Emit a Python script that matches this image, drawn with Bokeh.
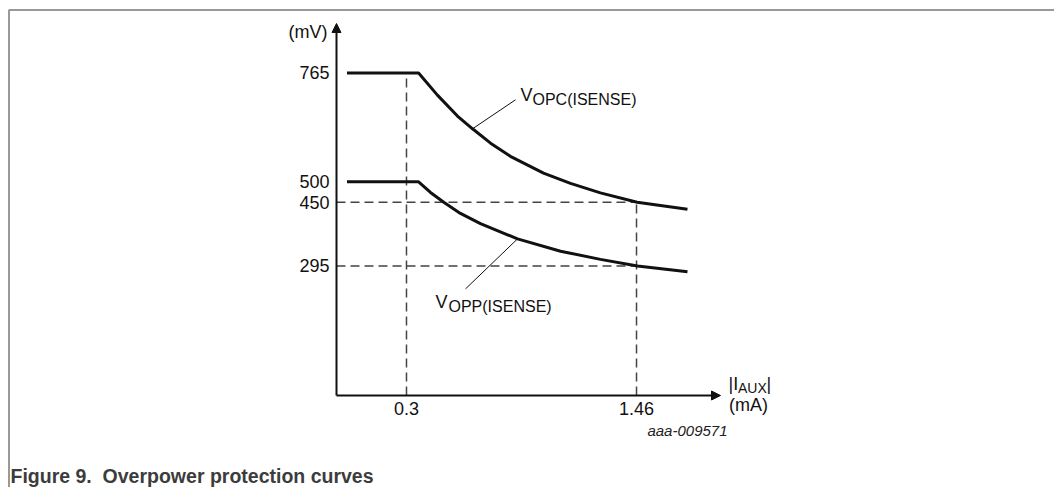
from bokeh.plotting import figure
from bokeh.models import Range1d, Label, Arrow, NormalHead
from bokeh.core.properties import value
from bokeh.embed import file_html
from bokeh.resources import INLINE

# ---------------- data ----------------
i_aux_opc = [0.0, 0.361, 0.456, 0.557, 0.633, 0.724, 0.824, 0.991, 1.127, 1.278, 1.463, 1.717]
v_opc = [765, 765, 711, 660, 629, 594, 562, 521, 496, 473, 450, 433]
i_aux_opp = [0.0, 0.361, 0.421, 0.488, 0.572, 0.673, 0.860, 1.077, 1.278, 1.465, 1.717]
v_opp = [500, 500, 474, 450, 423, 398, 361, 331, 311, 295, 281]
x_ticks = [0.3, 1.46]
y_ticks = [295, 450, 500, 765]

# ---------------- layout ----------------
W, H = 1054, 487
XS, XE = -1.74735, 3.56783      # data x at canvas px 0 and W
YT, YB = 941.38, -244.40        # data y at canvas px 0 and H
FONT = "Liberation Sans"
INK = "#111111"


def cx(px):
    return XS + px * (XE - XS) / W


def cy(py):
    return YT - py * (YT - YB) / H


def dx(px):
    return px * (XE - XS) / W


def dy(px):
    return px * (YT - YB) / H


AX_X, AX_Y = cx(336), cy(395)      # axis origin
AX_TOP, AX_RIGHT = cy(23), cx(720)  # arrow tips

p = figure(width=W, height=H, output_backend="svg", toolbar_location=None,
           x_range=Range1d(XS, XE), y_range=Range1d(YB, YT),
           min_border=0)
p.axis.visible = False
p.outline_line_color = None
p.grid.visible = False
p.background_fill_color = "white"
p.border_fill_color = "white"

# page frame (top and left rule)
p.segment(x0=[cx(8), cx(8.5)], y0=[cy(9.5), cy(9.5)], x1=[cx(1062), cx(8.5)], y1=[cy(9.5), cy(495)],
          line_color="#999999", line_width=2)

# dashed guide lines
DASH = dict(line_color="#444444", line_width=1.5, line_dash="9 5")
p.segment(x0=[x_ticks[0]], y0=[AX_Y], x1=[x_ticks[0]], y1=[y_ticks[3]], **DASH)
p.segment(x0=[x_ticks[1]], y0=[AX_Y], x1=[x_ticks[1]], y1=[y_ticks[1]], **DASH)
p.segment(x0=[AX_X, AX_X], y0=[y_ticks[1], y_ticks[0]],
          x1=[x_ticks[1], x_ticks[1]], y1=[y_ticks[1], y_ticks[0]], **DASH)

# curves
p.line(i_aux_opc, v_opc, line_color=INK, line_width=3, line_join="round")
p.line(i_aux_opp, v_opp, line_color=INK, line_width=3, line_join="round")

# leader lines from curve points to labels
a = 4  # VOPC anchor
p.segment(x0=[i_aux_opc[a]], y0=[v_opc[a]], x1=[i_aux_opc[a] + dx(43)], y1=[v_opc[a] + dy(29)],
          line_color=INK, line_width=1)
b = 6  # VOPP anchor
p.segment(x0=[i_aux_opp[b]], y0=[v_opp[b]], x1=[i_aux_opp[b] - dx(52)], y1=[v_opp[b] - dy(50)],
          line_color=INK, line_width=1)

# axes with arrow heads
for xs, ys, xe, ye in ((AX_X, AX_Y, AX_X, AX_TOP), (AX_X, AX_Y, AX_RIGHT, AX_Y)):
    p.add_layout(Arrow(end=NormalHead(size=9, fill_color=INK, line_color=INK),
                       x_start=xs, y_start=ys, x_end=xe, y_end=ye,
                       line_color=INK, line_width=2))

# tick labels
p.text(x=[AX_X] * len(y_ticks), y=y_ticks, text=[str(t) for t in y_ticks],
       x_offset=-7, text_align="right", text_baseline="middle",
       text_font=value(FONT), text_font_size="18px", text_color=INK)
p.text(x=x_ticks, y=[AX_Y] * len(x_ticks), text=[str(t) for t in x_ticks],
       y_offset=6, text_align="center", text_baseline="top",
       text_font=value(FONT), text_font_size="18px", text_color=INK)


def label(x, y, text, size="18px", align="left", style="normal", color=INK):
    p.add_layout(Label(x=x, y=y, text=text, text_font=FONT, text_font_size=size,
                       text_align=align, text_baseline="middle", text_font_style=style,
                       text_color=color))


label(cx(327), cy(31), "(mV)", align="right")
# V_OPC(ISENSE)
label(cx(520), cy(94), "V")
label(cx(532), cy(99), "OPC(ISENSE)", size="16px")
# V_OPP(ISENSE)
label(cx(435), cy(301.5), "V")
label(cx(448), cy(306), "OPP(ISENSE)", size="16px")
# |I_AUX| (mA)
label(cx(728), cy(383.5), "|I")
label(cx(737.5), cy(387), "AUX", size="14px")
label(cx(766), cy(383.5), "|")
label(cx(748), cy(404), "(mA)", align="center")
# figure id and caption
label(cx(727), cy(430), "aaa-009571", size="15px", align="right", style="italic", color="#222222")
label(cx(10), cy(475), "Figure 9.\u00a0 Overpower protection curves", size="19.5px",
      style="bold", color="#3c3c3c")

open("out.html", "w").write(file_html(p, INLINE))
